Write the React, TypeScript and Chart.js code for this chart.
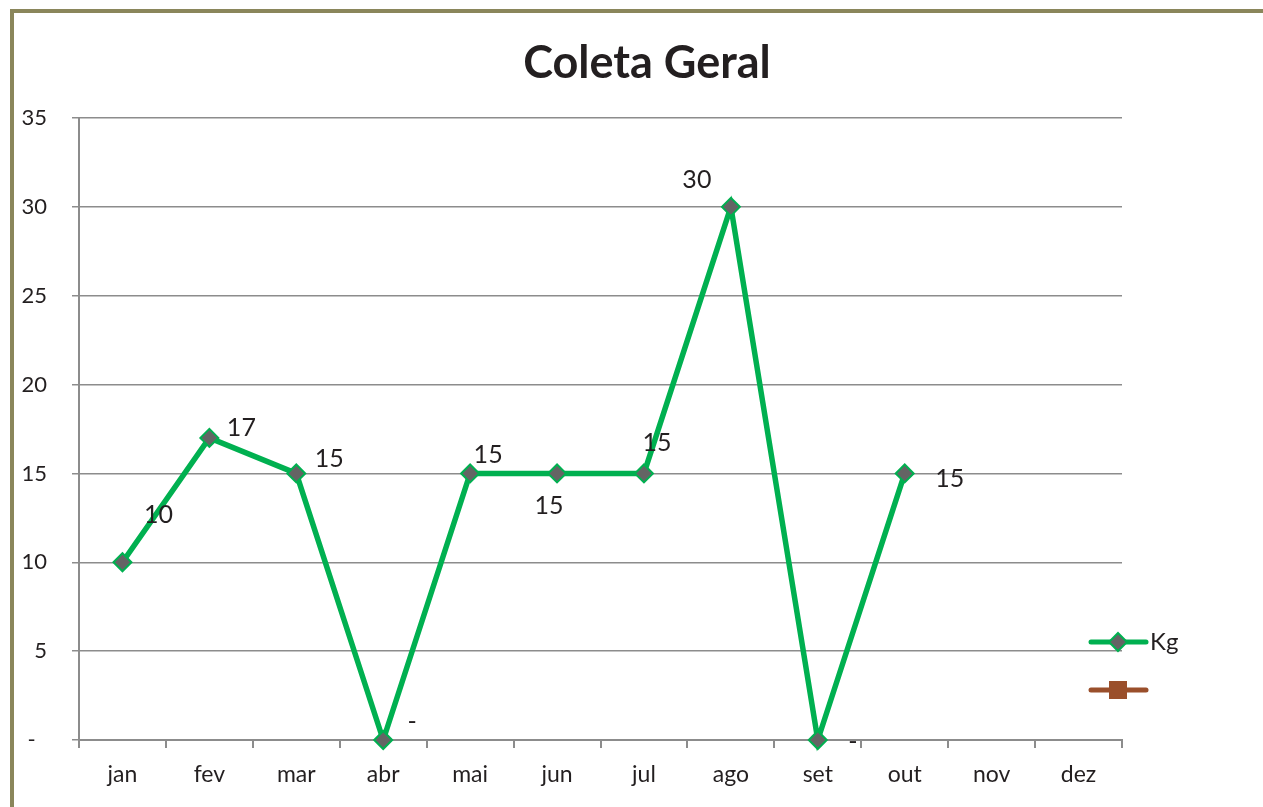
import React, { useEffect, useRef } from "react";
import { Chart, registerables } from "chart.js";

Chart.register(...registerables);

const months = ["jan", "fev", "mar", "abr", "mai", "jun", "jul", "ago", "set", "out", "nov", "dez"];
const kgValues: (number | null)[] = [10, 17, 15, 0, 15, 15, 15, 30, 0, 15, null, null];
const secondValues: (number | null)[] = [null, null, null, null, null, null, null, null, null, null, null, null];
const yTickStep = 5;
const yMax = 35;
const chartTitle = "Coleta Geral";
const seriesNames = ["Kg", ""];

// label placement offsets (dx, dy) relative to each point, in pixels
const labelOffsets: [number, number][] = [
  [36, -47], [32, -10], [33, -14], [29, -18], [18, -18], [-8, 33],
  [13, -30], [-34, -27], [35, 2], [45, 6], [0, 0], [0, 0],
];

const GREEN = "#00B050";
const BROWN = "#9A4F2B";
const MARKER = "#646464";
const GRID = "#8C8C8C";
const TEXT = "#231F20";
const FONT = "Lato, 'Open Sans', sans-serif";

const fmt = (v: number) => (v === 0 ? "-" : String(v));

const overlayPlugin = {
  id: "overlay",
  afterDatasetsDraw(chart: any) {
    const ctx = chart.ctx;
    ctx.save();
    const meta = chart.getDatasetMeta(0);
    ctx.fillStyle = TEXT;
    ctx.font = `25px ${FONT}`;
    ctx.textAlign = "center";
    ctx.textBaseline = "middle";
    meta.data.forEach((pt: any, i: number) => {
      const v = kgValues[i];
      if (v === null || v === undefined) return;
      const [dx, dy] = labelOffsets[i];
      ctx.fillText(fmt(v), pt.x + dx, pt.y + dy);
    });
    ctx.font = `bold 45px ${FONT}`;
    ctx.textBaseline = "alphabetic";
    ctx.fillText(chartTitle, 647, 78);
    const items = chart.data.datasets;
    items.forEach((ds: any, i: number) => {
      const cy = 642 + i * 48;
      const x0 = 1091, x1 = 1146, cx = 1118;
      ctx.strokeStyle = ds.borderColor;
      ctx.lineWidth = 5;
      ctx.lineCap = "round";
      ctx.beginPath();
      ctx.moveTo(x0, cy);
      ctx.lineTo(x1, cy);
      ctx.stroke();
      if (ds.pointStyle === "rectRot") {
        ctx.beginPath();
        ctx.moveTo(cx, cy - 9);
        ctx.lineTo(cx + 9, cy);
        ctx.lineTo(cx, cy + 9);
        ctx.lineTo(cx - 9, cy);
        ctx.closePath();
        ctx.fillStyle = ds.pointBackgroundColor;
        ctx.fill();
        ctx.lineWidth = 2;
        ctx.strokeStyle = ds.pointBorderColor;
        ctx.stroke();
      } else {
        ctx.fillStyle = ds.pointBackgroundColor;
        ctx.fillRect(cx - 9, cy - 9, 18, 18);
      }
      if (ds.label) {
        ctx.fillStyle = TEXT;
        ctx.font = `24px ${FONT}`;
        ctx.textAlign = "left";
        ctx.textBaseline = "middle";
        ctx.fillText(ds.label, 1150, cy);
        ctx.textAlign = "center";
      }
    });
    ctx.restore();
  },
};

export default function App() {
  const ref = useRef<HTMLCanvasElement>(null);
  useEffect(() => {
    if (!ref.current) return;
    const chart = new Chart(ref.current, {
      type: "line",
      data: {
        labels: months,
        datasets: [
          {
            label: seriesNames[0],
            data: kgValues,
            borderColor: GREEN,
            borderWidth: 5.5,
            pointStyle: "rectRot",
            pointRadius: 9,
            pointBackgroundColor: MARKER,
            pointBorderColor: GREEN,
            pointBorderWidth: 2,
            tension: 0,
            spanGaps: false,
            clip: false,
          },
          {
            label: seriesNames[1],
            data: secondValues,
            borderColor: BROWN,
            borderWidth: 5,
            pointStyle: "rect",
            pointRadius: 9,
            pointBackgroundColor: BROWN,
            pointBorderColor: BROWN,
            clip: false,
          },
        ],
      },
      plugins: [overlayPlugin],
      options: {
        animation: false,
        responsive: false,
        maintainAspectRatio: false,
        layout: { padding: { left: 0, top: 118, right: 141, bottom: 0 } },
        plugins: { legend: { display: false }, title: { display: false }, tooltip: { enabled: false } },
        scales: {
          x: {
            offset: true,
            grid: { display: true, drawOnChartArea: false, drawTicks: true, tickLength: 8, offset: true, color: GRID, lineWidth: 2 },
            border: { display: true, color: GRID, width: 2 },
            ticks: { color: TEXT, font: { family: FONT, size: 23 }, padding: 13, maxRotation: 0 },
            afterFit: (s: any) => { s.height = 67; },
          },
          y: {
            min: 0,
            max: yMax,
            grid: { color: GRID, lineWidth: 1.5, tickLength: 7, drawTicks: true },
            border: { display: true, color: GRID, width: 2 },
            ticks: {
              stepSize: yTickStep,
              color: TEXT,
              font: { family: FONT, size: 22 },
              padding: 25,
              callback: (v: any) => (v === 0 ? "-  " : String(v)),
            },
            afterFit: (s: any) => { s.width = 79; },
          },
        },
      },
    });
    return () => chart.destroy();
  }, []);
  return (
    <div style={{ position: "fixed", left: 0, top: 0, width: 1263, height: 807, background: "#fff", overflow: "hidden" }}>
      <div style={{ position: "absolute", left: 10, top: 9, width: 1400, height: 900, border: "4px solid #8A865B", boxSizing: "border-box" }} />
      <canvas ref={ref} width={1263} height={807} style={{ position: "absolute", left: 0, top: 0 }} />
    </div>
  );
}
